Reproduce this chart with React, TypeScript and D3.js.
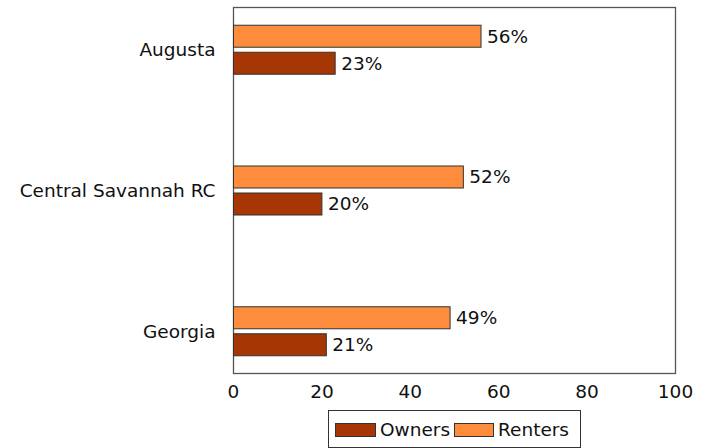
import React from "react";
import * as d3 from "d3";

const categories = ["Augusta", "Central Savannah RC", "Georgia"];
const renters = [56, 52, 49];
const owners = [23, 20, 21];
const xTicks = [0, 20, 40, 60, 80, 100];
const seriesNames = ["Owners", "Renters"];
const seriesColors = ["#a63603", "#fd8d3c"];

const FONT = "'DejaVu Sans', sans-serif";

export default function App() {
  const W = 711, H = 448;
  const left = 233.5, right = 675.5, top = 7.5, bottom = 373.5;
  const x = d3.scaleLinear().domain([0, 100]).range([left, right]);
  const y = d3.scalePoint<string>().domain(categories).range([top, bottom]).padding(0.3);
  const barH = 22;
  const off = 13.5;
  const fs = 18.5;

  return (
    <svg width={W} height={H} style={{ position: "absolute", left: 0, top: 0 }} fontFamily={FONT}>
      <rect x={left} y={top} width={right - left} height={bottom - top} fill="none" stroke="#555" strokeWidth={1.3} />
      {categories.map((c, i) => {
        const cy = y(c)!;
        return (
          <g key={c}>
            <rect x={x(0)} y={cy - off - barH / 2} width={x(renters[i]) - x(0)} height={barH} fill={seriesColors[1]} stroke="#333" strokeWidth={1} />
            <text x={x(renters[i]) + 6} y={cy - off} dy="0.35em" fontSize={fs} fill="#111">{renters[i]}%</text>
            <rect x={x(0)} y={cy + off - barH / 2} width={x(owners[i]) - x(0)} height={barH} fill={seriesColors[0]} stroke="#333" strokeWidth={1} />
            <text x={x(owners[i]) + 6} y={cy + off} dy="0.35em" fontSize={fs} fill="#111">{owners[i]}%</text>
            <text x={left - 18} y={cy} dy="0.35em" textAnchor="end" fontSize={fs} fill="#111">{c}</text>
          </g>
        );
      })}
      {xTicks.map((t) => (
        <text key={t} x={x(t)} y={392} dy="0.35em" textAnchor="middle" fontSize={fs} fill="#111">{t}</text>
      ))}
      <g>
        <rect x={328.5} y={410.5} width={252} height={37} fill="white" stroke="#333" strokeWidth={1} />
        <rect x={335.5} y={423.5} width={40} height={13} fill={seriesColors[0]} stroke="#333" strokeWidth={1} />
        <text x={380} y={430} dy="0.35em" fontSize={fs} fill="#111">{seriesNames[0]}</text>
        <rect x={454.5} y={423.5} width={39} height={13} fill={seriesColors[1]} stroke="#333" strokeWidth={1} />
        <text x={498} y={430} dy="0.35em" fontSize={fs} fill="#111">{seriesNames[1]}</text>
      </g>
    </svg>
  );
}
